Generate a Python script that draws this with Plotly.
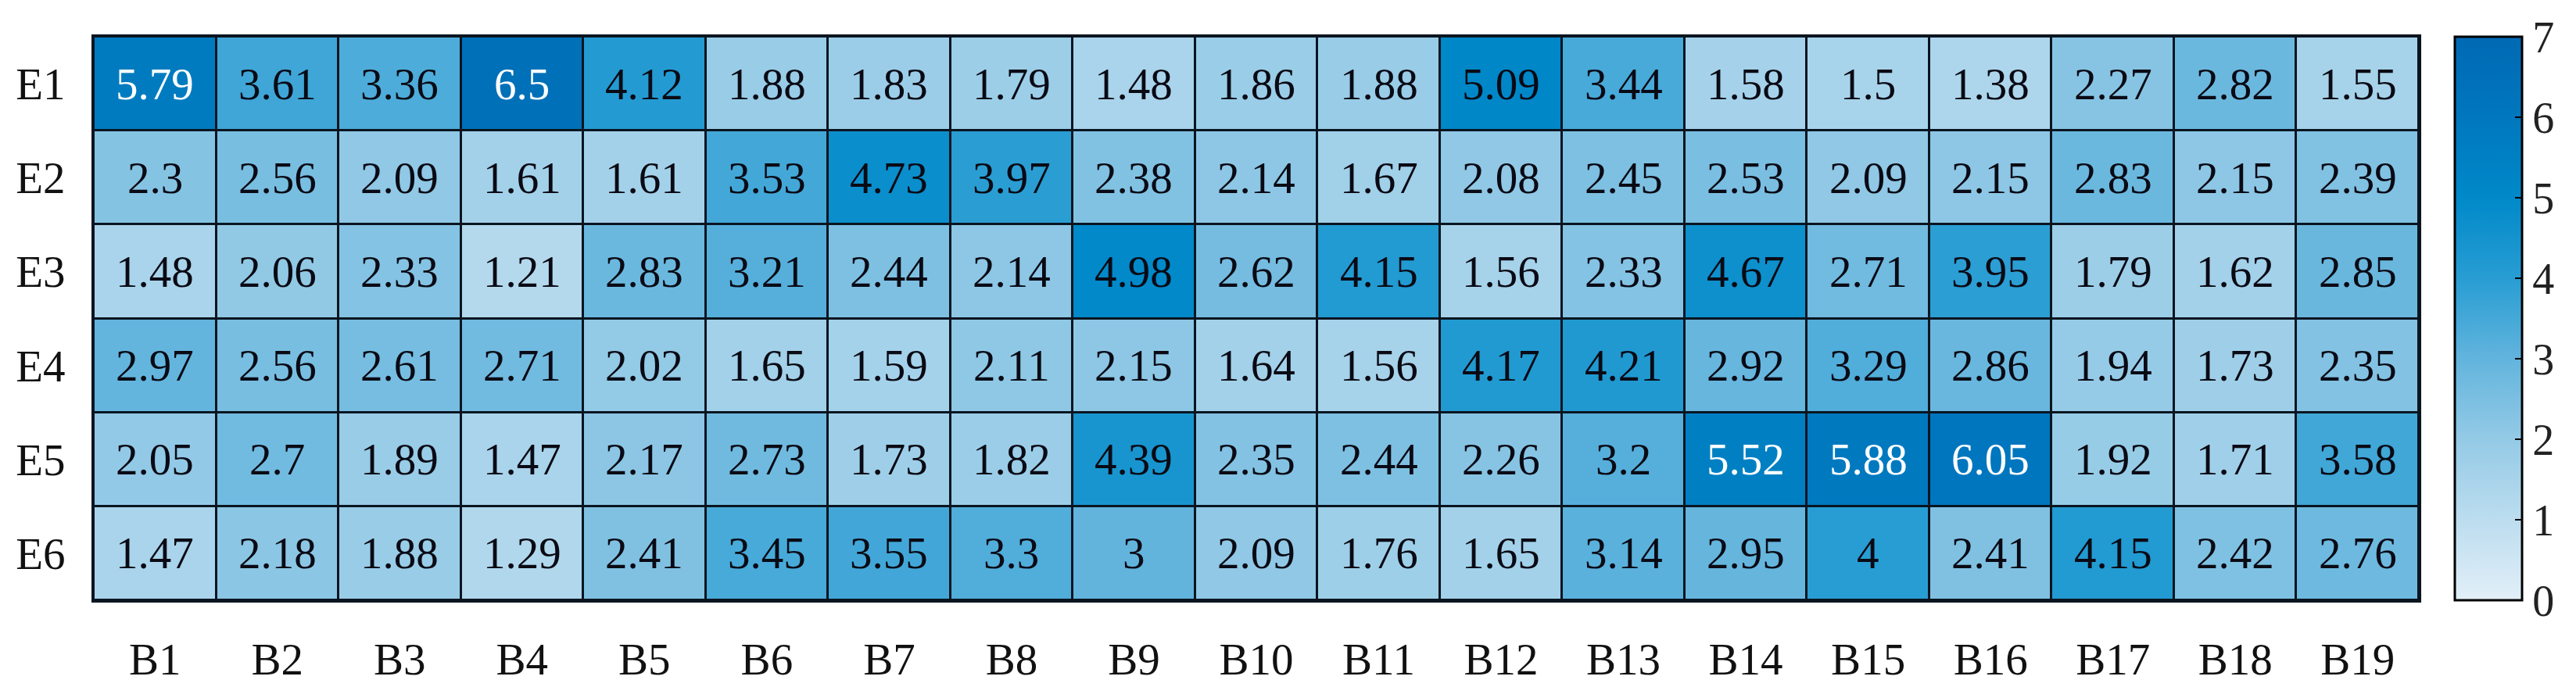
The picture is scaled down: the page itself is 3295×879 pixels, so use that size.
import plotly.graph_objects as go

rows = ["E1", "E2", "E3", "E4", "E5", "E6"]
cols = ["B1", "B2", "B3", "B4", "B5", "B6", "B7", "B8", "B9", "B10",
        "B11", "B12", "B13", "B14", "B15", "B16", "B17", "B18", "B19"]

E1 = [5.79, 3.61, 3.36, 6.5, 4.12, 1.88, 1.83, 1.79, 1.48, 1.86, 1.88, 5.09, 3.44, 1.58, 1.5, 1.38, 2.27, 2.82, 1.55]
E2 = [2.3, 2.56, 2.09, 1.61, 1.61, 3.53, 4.73, 3.97, 2.38, 2.14, 1.67, 2.08, 2.45, 2.53, 2.09, 2.15, 2.83, 2.15, 2.39]
E3 = [1.48, 2.06, 2.33, 1.21, 2.83, 3.21, 2.44, 2.14, 4.98, 2.62, 4.15, 1.56, 2.33, 4.67, 2.71, 3.95, 1.79, 1.62, 2.85]
E4 = [2.97, 2.56, 2.61, 2.71, 2.02, 1.65, 1.59, 2.11, 2.15, 1.64, 1.56, 4.17, 4.21, 2.92, 3.29, 2.86, 1.94, 1.73, 2.35]
E5 = [2.05, 2.7, 1.89, 1.47, 2.17, 2.73, 1.73, 1.82, 4.39, 2.35, 2.44, 2.26, 3.2, 5.52, 5.88, 6.05, 1.92, 1.71, 3.58]
E6 = [1.47, 2.18, 1.88, 1.29, 2.41, 3.45, 3.55, 3.3, 3, 2.09, 1.76, 1.65, 3.14, 2.95, 4, 2.41, 4.15, 2.42, 2.76]
Z = [E1, E2, E3, E4, E5, E6]

cbar_ticks = [0, 1, 2, 3, 4, 5, 6, 7]

FONT = "Liberation Serif"

colorscale = [
    [0 / 7, "rgb(226,239,248)"],
    [1 / 7, "rgb(188,221,239)"],
    [2 / 7, "rgb(148,202,230)"],
    [3 / 7, "rgb(98,180,221)"],
    [4 / 7, "rgb(40,157,211)"],
    [5 / 7, "rgb(0,137,201)"],
    [6 / 7, "rgb(0,119,190)"],
    [7 / 7, "rgb(0,105,180)"],
]

def fmt(v):
    return ("%g" % v)

fig = go.Figure()
fig.add_trace(go.Heatmap(
    z=Z, x=cols, y=rows,
    zmin=0, zmax=7,
    colorscale=colorscale,
    xgap=3, ygap=3,
    showscale=True,
    hoverinfo="skip",
    colorbar=dict(
        x=1.0155, xanchor="left", xref="paper",
        y=0.5, yanchor="middle", len=1.0, lenmode="fraction",
        thickness=86, thicknessmode="pixels",
        outlinewidth=3, outlinecolor="black",
        tickvals=cbar_ticks, ticktext=[str(t) for t in cbar_ticks],
        ticks="inside", ticklen=10, tickwidth=2, tickcolor="black",
        tickfont=dict(family=FONT, size=56, color="#222"),
        ypad=0, xpad=0,
    ),
))

for r, rowvals in zip(rows, Z):
    for c, v in zip(cols, rowvals):
        fig.add_annotation(
            x=c, y=r, text=fmt(v), showarrow=False,
            font=dict(family=FONT, size=57, color="white" if v > 5.5 else "#0a0a14"),
        )

fig.update_xaxes(
    showgrid=False, zeroline=False,
    showline=True, mirror=True, linecolor="#0a1520", linewidth=3,
    tickfont=dict(family=FONT, size=57, color="#111"),
    ticks="", ticklabelstandoff=24,
)
fig.update_yaxes(
    autorange="reversed",
    showgrid=False, zeroline=False,
    showline=True, mirror=True, linecolor="#0a1520", linewidth=3,
    tickfont=dict(family=FONT, size=57, color="#111"),
    ticks="", ticklabelstandoff=22,
)

fig.update_layout(
    width=3295, height=879,
    margin=dict(l=112, r=209, t=39, b=95),
    plot_bgcolor="#0a1520",
    paper_bgcolor="white",
)

fig.write_html("out.html")
